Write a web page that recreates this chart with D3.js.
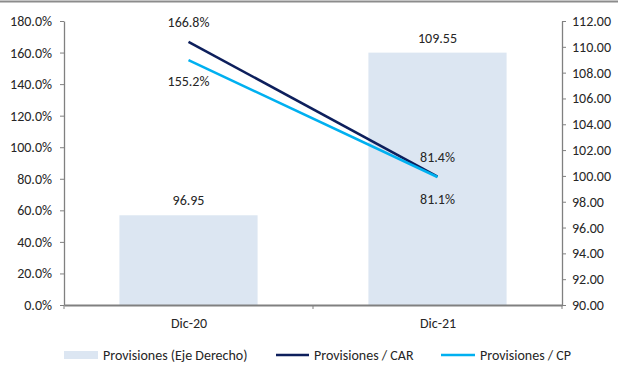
<!DOCTYPE html>
<html>
<head>
<meta charset="utf-8">
<script src="https://cdn.jsdelivr.net/npm/d3@7"></script>
<style>
  html, body { margin: 0; padding: 0; background: #fff; }
  svg { display: block; font-family: Calibri, Carlito, "Liberation Sans", Arial, sans-serif; }
</style>
</head>
<body>
<svg id="chart" width="618" height="371"></svg>
<script>
// Periods on the category axis
const categories = ["Dic-20", "Dic-21"];
// Provisiones, right axis
const provisiones = [96.95, 109.55];
// Ratios, left axis (percent)
const provCar = [166.8, 81.4];
const provCp = [155.2, 81.1];
// Axis ticks
const leftTicks = [0, 20, 40, 60, 80, 100, 120, 140, 160, 180];
const rightTicks = [90, 92, 94, 96, 98, 100, 102, 104, 106, 108, 110, 112];

const svg = d3.select("#chart");
const plotLeft = 64, plotRight = 562, plotTop = 21, plotBottom = 305;
const axisColor = "#808080";
const textColor = "#262626";
const fontSize = 14;

// top frame rule
svg.append("line").attr("x1", 0).attr("x2", 618).attr("y1", 1.5).attr("y2", 1.5)
  .attr("stroke", "#8c8c8c").attr("stroke-width", 2);

const x = d3.scaleBand().domain(categories).range([plotLeft, plotRight]).paddingInner(0.445).paddingOuter(0.2225);
const xPoint = d3.scalePoint().domain(categories).range([plotLeft, plotRight]).padding(0.5);
const yL = d3.scaleLinear().domain([0, 180]).range([plotBottom, plotTop]);
const yR = d3.scaleLinear().domain([90, 112]).range([plotBottom, plotTop]);

// bars (right axis)
svg.append("g").selectAll("rect").data(categories).join("rect")
  .attr("x", d => x(d))
  .attr("width", x.bandwidth())
  .attr("y", (d, i) => yR(provisiones[i]))
  .attr("height", (d, i) => plotBottom - yR(provisiones[i]))
  .attr("fill", "#dce6f2");

// left axis
const gL = svg.append("g").attr("transform", `translate(${plotLeft},0)`)
  .call(d3.axisLeft(yL).tickValues(leftTicks).tickSize(4).tickSizeOuter(0).tickPadding(8)
    .tickFormat(d => d.toFixed(1) + "%"));
// right axis
const gR = svg.append("g").attr("transform", `translate(${plotRight},0)`)
  .call(d3.axisRight(yR).tickValues(rightTicks).tickSize(4).tickSizeOuter(0).tickPadding(6)
    .tickFormat(d => d.toFixed(2)));
// bottom axis with boundary ticks
const gB = svg.append("g").attr("transform", `translate(0,${plotBottom})`)
  .call(d3.axisBottom(xPoint).tickSize(0).tickPadding(13));
svg.append("g").selectAll("line").data([plotLeft, (plotLeft + plotRight) / 2, plotRight]).join("line")
  .attr("x1", d => d).attr("x2", d => d).attr("y1", plotBottom).attr("y2", plotBottom + 4)
  .attr("stroke", axisColor);

[gL, gR, gB].forEach(g => {
  g.selectAll("path.domain").attr("stroke", axisColor).attr("stroke-width", 1.3);
  g.selectAll(".tick line").attr("stroke", axisColor);
  g.selectAll("text").attr("fill", textColor).style("font-size", fontSize + "px")
    .style("font-family", "Calibri, Carlito, 'Liberation Sans', Arial, sans-serif");
});
gB.select("path.domain").attr("stroke-width", 2);

// ratio lines
const series = [
  { values: provCar, color: "#0d1f5c", labelDy: [-15, -15] },
  { values: provCp, color: "#00b0f0", labelDy: [26, 27] }
];
const line = d3.line().x((d, i) => xPoint(categories[i])).y(d => yL(d));
series.forEach(s => {
  svg.append("path").datum(s.values).attr("d", line)
    .attr("fill", "none").attr("stroke", s.color).attr("stroke-width", 2.6);
});

// data labels
const lbl = svg.append("g").attr("fill", textColor).style("font-size", fontSize + "px")
  .attr("text-anchor", "middle");
series.forEach(s => {
  s.values.forEach((v, i) => {
    lbl.append("text").attr("x", xPoint(categories[i])).attr("y", yL(v) + s.labelDy[i])
      .text(v.toFixed(1) + "%");
  });
});
provisiones.forEach((v, i) => {
  lbl.append("text").attr("x", xPoint(categories[i])).attr("y", yR(v) - 10)
    .text(v.toFixed(2));
});

// legend
const legend = svg.append("g").style("font-size", fontSize + "px").attr("fill", textColor);
const ly = 355;
legend.append("rect").attr("x", 64).attr("y", ly - 4).attr("width", 34).attr("height", 8).attr("fill", "#dce6f2");
legend.append("text").attr("x", 103).attr("y", ly + 5).text("Provisiones (Eje Derecho)");
legend.append("line").attr("x1", 276).attr("x2", 309).attr("y1", ly).attr("y2", ly)
  .attr("stroke", series[0].color).attr("stroke-width", 2.6);
legend.append("text").attr("x", 314).attr("y", ly + 5).text("Provisiones / CAR");
legend.append("line").attr("x1", 441).attr("x2", 475).attr("y1", ly).attr("y2", ly)
  .attr("stroke", series[1].color).attr("stroke-width", 2.6);
legend.append("text").attr("x", 480).attr("y", ly + 5).text("Provisiones / CP");
</script>
</body>
</html>
